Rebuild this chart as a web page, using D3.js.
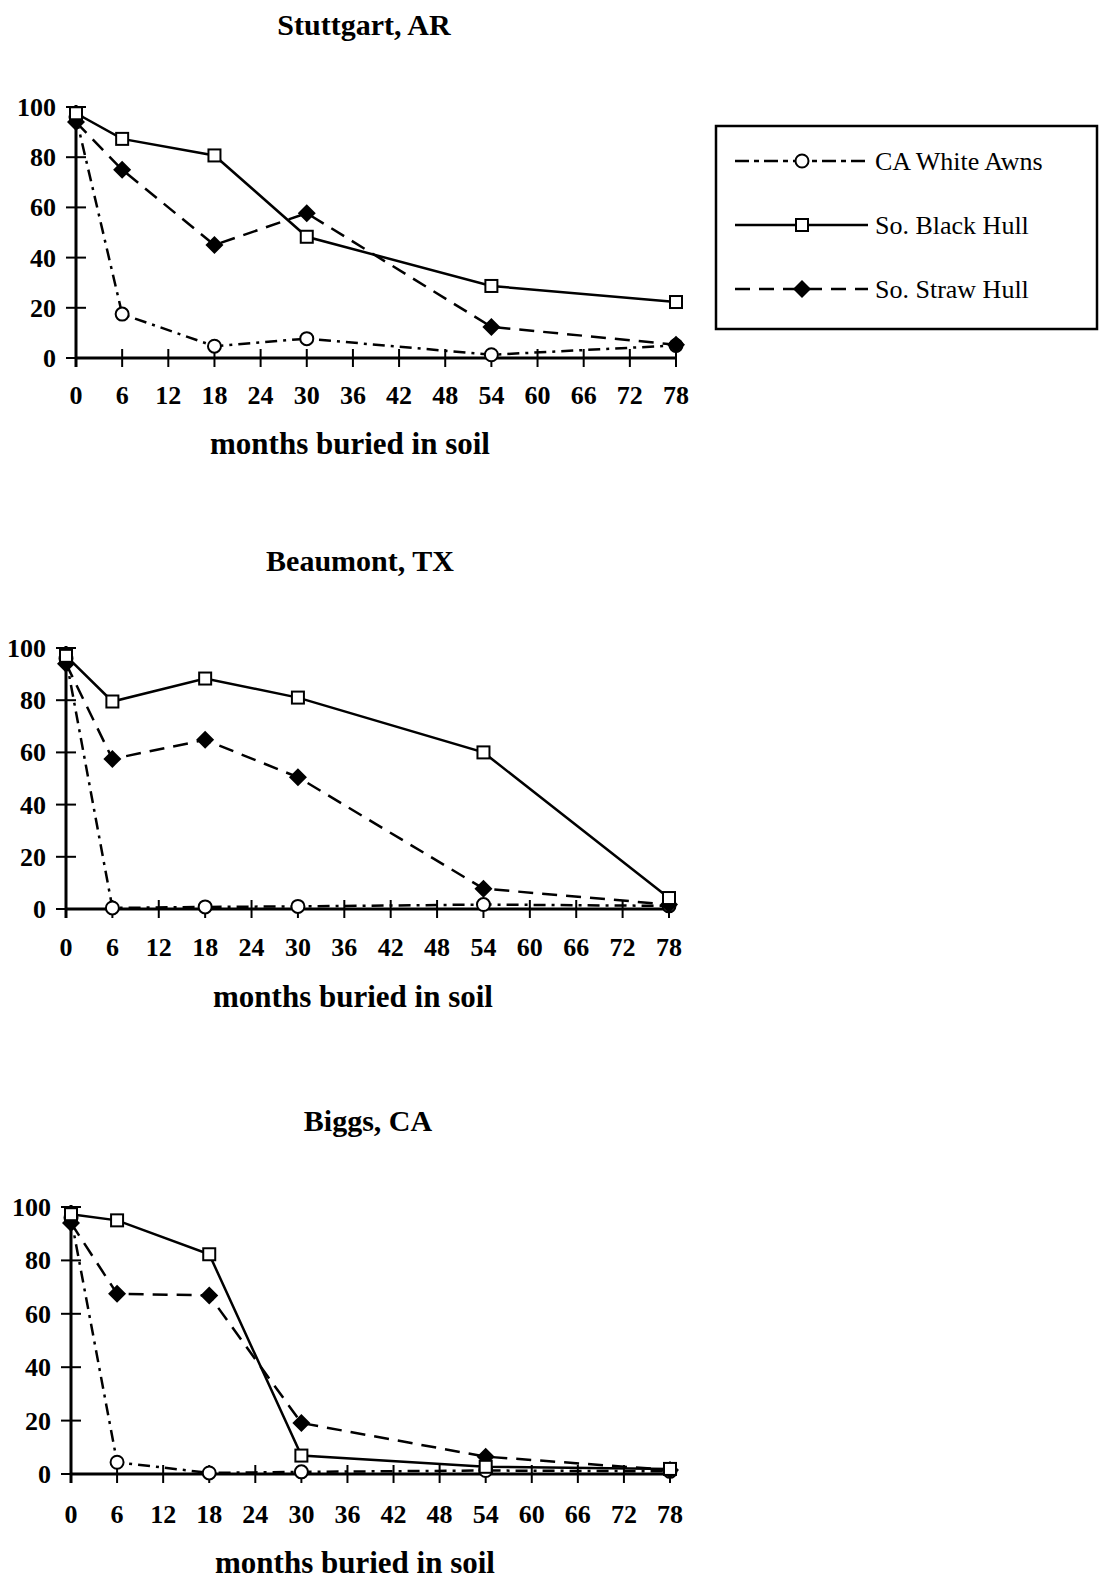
<!DOCTYPE html>
<html>
<head>
<meta charset="UTF-8">
<title>months buried in soil</title>
<style>
    body { margin: 0; background: #fff; }
    svg { display: block; }
    text { font-family: 'Liberation Serif', 'DejaVu Serif', serif; fill: #000; }
    .title { font-weight: bold; font-size: 30px; }
    .xlab { font-weight: bold; font-size: 31px; }
    .tick { font-weight: bold; font-size: 26px; }
    .legend-text { font-size: 26px; }
</style>
<script src="https://d3js.org/d3.v7.min.js"></script>
</head>
<body>
<svg id="chart" width="1102" height="1581"></svg>
<script>
    // data
    const months = [0, 6, 18, 30, 54, 78];
    const xTicks = [0, 6, 12, 18, 24, 30, 36, 42, 48, 54, 60, 66, 72, 78];
    const yTicks = [0, 20, 40, 60, 80, 100];
    const seriesNames = ["CA White Awns", "So. Black Hull", "So. Straw Hull"];
    const siteNames = ["Stuttgart, AR", "Beaumont, TX", "Biggs, CA"];
    const xLabel = "months buried in soil";

    const stuttgartWhite = [96, 17.5, 4.7, 7.7, 1.3, 5];
    const stuttgartBlack = [97.5, 87.3, 80.7, 48.3, 28.7, 22.3];
    const stuttgartStraw = [94, 75, 45, 57.7, 12.4, 5.3];

    const beaumontWhite = [96, 0.4, 0.8, 1, 1.7, 1.2];
    const beaumontBlack = [97, 79.5, 88.3, 81, 60, 4.2];
    const beaumontStraw = [94, 57.5, 64.8, 50.5, 7.8, 1.7];

    const biggsWhite = [96, 4.4, 0.4, 0.8, 1.3, 1];
    const biggsBlack = [97.3, 95, 82.3, 6.9, 2.7, 1.9];
    const biggsStraw = [94, 67.5, 66.9, 19.1, 6.5, 1.5];

    const svg = d3.select("#chart");

    // page layout of the three panels
    const panels = [
        { name: siteNames[0], x0: 76, x1: 676, y0: 358, y1: 107, titleX: 364, titleY: 35, tickY: 404, labX: 350, labY: 454,
          data: [stuttgartWhite, stuttgartBlack, stuttgartStraw] },
        { name: siteNames[1], x0: 66, x1: 669, y0: 909, y1: 648, titleX: 360, titleY: 571, tickY: 956, labX: 353, labY: 1007,
          data: [beaumontWhite, beaumontBlack, beaumontStraw] },
        { name: siteNames[2], x0: 71, x1: 670, y0: 1474, y1: 1207, titleX: 368, titleY: 1131, tickY: 1523, labX: 355, labY: 1573,
          data: [biggsWhite, biggsBlack, biggsStraw] }
    ];

    const styles = [
        { dash: "12,6,3,6", marker: "circle" },
        { dash: null, marker: "square" },
        { dash: "15,9", marker: "diamond" }
    ];

    function drawMarker(g, type, cx, cy) {
        if (type === "circle") {
            g.append("circle").attr("cx", cx).attr("cy", cy).attr("r", 6.5)
                .attr("fill", "#fff").attr("stroke", "#000").attr("stroke-width", 2);
        } else if (type === "square") {
            g.append("rect").attr("x", cx - 6).attr("y", cy - 6).attr("width", 12).attr("height", 12)
                .attr("fill", "#fff").attr("stroke", "#000").attr("stroke-width", 2);
        } else {
            const s = 9;
            g.append("path").attr("d", `M${cx},${cy - s}L${cx + s},${cy}L${cx},${cy + s}L${cx - s},${cy}Z`)
                .attr("fill", "#000");
        }
    }

    panels.forEach(function (p) {
        const x = d3.scaleLinear().domain([0, 78]).range([p.x0, p.x1]);
        const y = d3.scaleLinear().domain([0, 100]).range([p.y0, p.y1]);
        const g = svg.append("g");

        g.append("text").attr("class", "title").attr("x", p.titleX).attr("y", p.titleY)
            .attr("text-anchor", "middle").text(p.name);

        // axes
        g.append("line").attr("x1", x(0)).attr("x2", x(78)).attr("y1", y(0)).attr("y2", y(0))
            .attr("stroke", "#000").attr("stroke-width", 3);
        g.append("line").attr("x1", x(0)).attr("x2", x(0)).attr("y1", y(0) + 9).attr("y2", y(100) - 2)
            .attr("stroke", "#000").attr("stroke-width", 3);

        xTicks.forEach(function (t) {
            g.append("line").attr("x1", x(t)).attr("x2", x(t)).attr("y1", y(0) - 9).attr("y2", y(0) + 9)
                .attr("stroke", "#000").attr("stroke-width", 2);
            g.append("text").attr("class", "tick").attr("x", x(t)).attr("y", p.tickY)
                .attr("text-anchor", "middle").text(t);
        });
        yTicks.forEach(function (t) {
            g.append("line").attr("x1", x(0) - 10).attr("x2", x(0) + 10).attr("y1", y(t)).attr("y2", y(t))
                .attr("stroke", "#000").attr("stroke-width", 2);
            g.append("text").attr("class", "tick").attr("x", x(0) - 20).attr("y", y(t) + 9)
                .attr("text-anchor", "end").text(t);
        });

        g.append("text").attr("class", "xlab").attr("x", p.labX).attr("y", p.labY)
            .attr("text-anchor", "middle").text(xLabel);

        const line = d3.line().x((d, i) => x(months[i])).y(d => y(d));

        // white awns first, then straw hull, black hull on top
        [0, 2, 1].forEach(function (k) {
            const vals = p.data[k];
            g.append("path").datum(vals).attr("d", line)
                .attr("fill", "none").attr("stroke", "#000").attr("stroke-width", 2.5)
                .attr("stroke-dasharray", styles[k].dash);
            vals.forEach(function (v, i) {
                drawMarker(g, styles[k].marker, x(months[i]), y(v));
            });
        });
    });

    // legend
    const lg = svg.append("g");
    lg.append("rect").attr("x", 716).attr("y", 126).attr("width", 381).attr("height", 203)
        .attr("fill", "#fff").attr("stroke", "#000").attr("stroke-width", 2.5);
    const legendY = [161, 225, 289];
    seriesNames.forEach(function (name, k) {
        const ly = legendY[k];
        lg.append("line").attr("x1", 735).attr("x2", 868).attr("y1", ly).attr("y2", ly)
            .attr("stroke", "#000").attr("stroke-width", 2.5)
            .attr("stroke-dasharray", k === 0 ? "14,5,5,5" : styles[k].dash);
        drawMarker(lg, styles[k].marker, 802, ly);
        lg.append("text").attr("class", "legend-text").attr("x", 875).attr("y", ly + 9).text(name);
    });
</script>
</body>
</html>
